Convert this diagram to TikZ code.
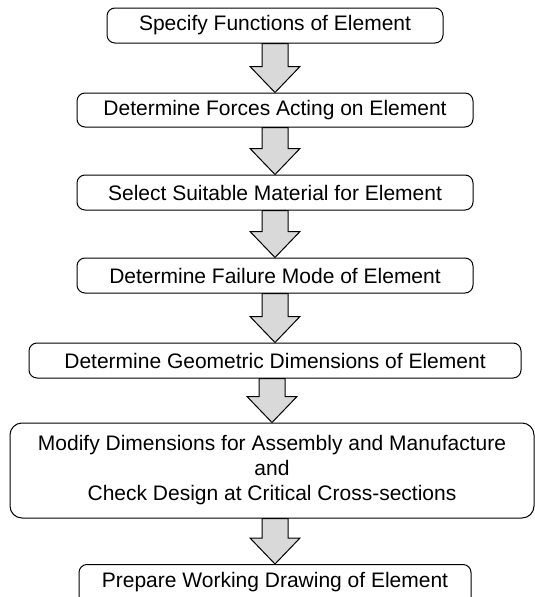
\documentclass[tikz,border=0pt]{standalone}
\usepackage{fontspec}
\setmainfont{Liberation Sans}
\usetikzlibrary{calc}
\newcommand\blockarrow[2]{%
  \draw[arr] let \p1=(#1.south), \p2=(#2.north) in
    (\x2-13pt,\y1) -- (\x2-13pt,\y2+26pt) -- (\x2-25pt,\y2+26pt) -- (\x2,\y2)
    -- (\x2+25pt,\y2+26pt) -- (\x2+13pt,\y2+26pt) -- (\x2+13pt,\y1) -- cycle;}
\begin{document}
\begin{tikzpicture}[x=1pt,y=-1pt,
  box/.style={draw, line width=1pt, rounded corners=8pt, inner sep=0pt,
    font=\fontsize{21}{25}\selectfont, align=center},
  arr/.style={draw, line width=1pt, fill=black!15, line join=miter}]
\useasboundingbox (0,0) rectangle (535,597);
\clip (0,0) rectangle (535,597);
\node[box, minimum width=336pt, minimum height=35pt] (b1) at (275,25.5) {Specify Functions of Element};
\node[box, minimum width=396pt, minimum height=34pt] (b2) at (275,110) {Determine Forces Acting on Element};
\node[box, minimum width=396pt, minimum height=35pt] (b3) at (275,192.5) {Select Suitable Material for Element};
\node[box, minimum width=396pt, minimum height=35pt] (b4) at (275,275.5) {Determine Failure Mode of Element};
\node[box, minimum width=492pt, minimum height=35pt] (b5) at (275,360.5) {Determine Geometric Dimensions of Element};
\node[box, rounded corners=12pt, minimum width=524pt, minimum height=95pt] (b6) at (272,470.5) {Modify Dimensions for Assembly and Manufacture\\and\\Check Design at Critical Cross-sections};
\node[box, minimum width=392pt, text height=23pt, text depth=20pt, anchor=north] (b7) at (275,564) {Prepare Working Drawing of Element};
\blockarrow{b1}{b2}
\blockarrow{b2}{b3}
\blockarrow{b3}{b4}
\blockarrow{b4}{b5}
\blockarrow{b5}{b6}
\blockarrow{b6}{b7}
\end{tikzpicture}
\end{document}
